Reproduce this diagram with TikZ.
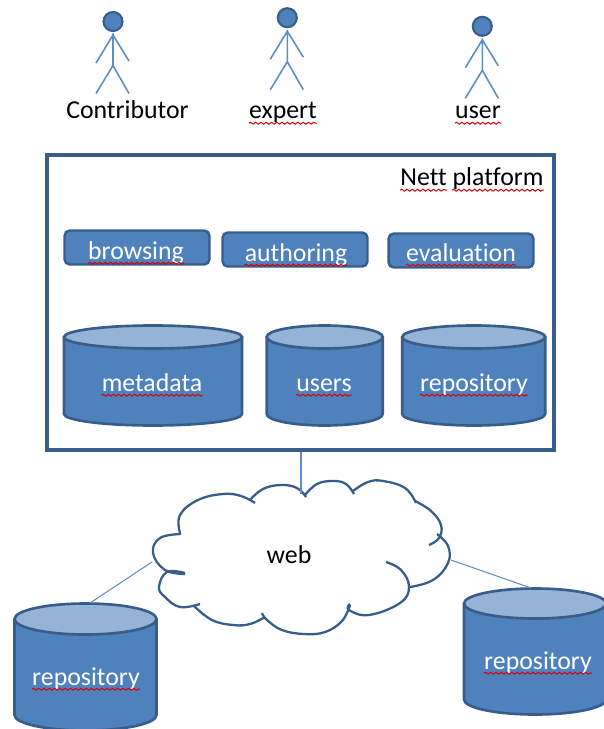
\documentclass[tikz,border=0pt]{standalone}
\usepackage{fontspec}
\setmainfont[Ligatures=NoCommon]{Carlito}
\usetikzlibrary{positioning}
\usetikzlibrary{decorations.pathmorphing}
\definecolor{boxfill}{HTML}{4F81BD}
\definecolor{boxedge}{HTML}{385D8A}
\definecolor{boxtop}{HTML}{95B3D7}
\definecolor{thinline}{HTML}{5F8CC4}
\tikzset{
  word/.style={inner sep=0pt, anchor=base, font=\fontsize{14.7}{16}\selectfont},
  lightword/.style={word, text=white},
  service/.style={draw=boxedge, line width=1.4pt, fill=boxfill, rounded corners=3pt, minimum width=2.9cm, minimum height=0.68cm, inner sep=0pt},
  link/.style={draw=thinline, line width=0.6pt},
  lobe/.style={draw=boxedge, line width=1.3pt, smooth, tension=0.7},
  squiggle/.style={draw=red!85!black, line width=0.55pt, decorate, decoration={snake, amplitude=0.55pt, segment length=3pt}},
  actor/.pic={
    \draw[thinline, line width=0.9pt] (0,12) -- (0,44) (-17,41.5) -- (0,13.5) -- (16,39.5) (-17,72) -- (0,44) -- (16,72);
    \draw[boxedge, line width=1.2pt, fill=boxfill] (0,0) circle[radius=9.5];
  },
  % half width, end radius, half height
  pics/store/.style n args={3}{code={
    \draw[boxedge, line width=1.5pt, line join=round, fill=boxfill] (-#1,-#3+#2) -- (-#1,#3-#2) arc[start angle=180, end angle=0, x radius=#1, y radius=#2] -- (#1,-#3+#2) -- cycle;
    \draw[boxedge, line width=1.5pt, fill=boxtop] (0,-#3+#2) ellipse[x radius=#1, y radius=#2];
  }}
}
\begin{document}
\begin{tikzpicture}[x=0.02cm, y=-0.02cm]
\useasboundingbox (0,0) rectangle (603,729);

\pic at (113,21.5) {actor};
\pic at (287.3,17.7) {actor};
\pic at (482.3,26.3) {actor};
\node[word] (contributor) at (127.5,119) {Contributor};
\node[word] (expert) at (283,119) {expert};
\node[word] (user) at (478,119) {user};

\node[draw=boxedge, line width=1.8pt, minimum width=10.14cm, minimum height=5.9cm, inner sep=0pt] (platform) at (300.5,302.5) {};
\node[word] (nett) at (472,186) {Nett platform};

\node[service] (browsing) at (137,247.5) {};
\node[service] (authoring) at (295,249.5) {};
\node[service] (evaluation) at (461,250.5) {};
\node[lightword] (browsinglab) at (136,259) {browsing};
\node[lightword] (authoringlab) at (296,261) {authoring};
\node[lightword] (evaluationlab) at (461,261) {evaluation};

\pic at (153,375.5) {store={89}{11.5}{50}};
\pic at (324.7,375.5) {store={58}{11.5}{50}};
\pic at (473.7,375.5) {store={71.5}{11.5}{50}};
\pic at (85.5,667) {store={71}{15.5}{63.5}};
\pic at (535,651.5) {store={71}{15}{63}};
\node[lightword] (metadatalab) at (152,391) {metadata};
\node[lightword] (userslab) at (324,391) {users};
\node[lightword] (repositorylab) at (474,391) {repository};
\node[lightword] (leftrepolab) at (86,685) {repository};
\node[lightword] (rightrepolab) at (538,669) {repository};

% cloud
\draw[lobe] plot coordinates {(180,533) (180,515) (198,500) (223,494) (241,496) (255,503)};
\draw[lobe] plot coordinates {(250,500) (263,489) (281,485) (297,488) (306,497)};
\draw[lobe] plot coordinates {(305,495) (317,484) (333,481) (346,484) (354,494)};
\draw[lobe] plot coordinates {(353,491) (368,482) (383,481) (405,488) (416,503)};
\draw[lobe] plot coordinates {(415,501) (431,511) (441,525) (439,538) (429,545)};
\draw[lobe] plot coordinates {(437,534) (448,546) (448,563) (433,580) (410,587)};
\draw[lobe] plot coordinates {(386,562) (401,570) (409,587) (400,603) (369,615) (349,610) (350,604)};
\draw[lobe] plot coordinates {(350,605) (342,621) (325,632) (304,634) (282,630) (267,620) (262,613)};
\draw[lobe] plot coordinates {(265,617) (250,624) (233,625) (212,620) (194,606)};
\draw[lobe] plot coordinates {(200,604) (180,607) (165,597) (159,587) (167,572) (185,573)};
\draw[lobe] plot coordinates {(185,574) (165,570) (153,553) (160,538) (181,534)};
\node[word] (web) at (289,563) {web};

\coordinate (cloudtop) at (301,494);
\coordinate (cloudleft) at (152,562);
\coordinate (cloudright) at (451,560);
\coordinate (leftrepotop) at (90,603);
\coordinate (rightrepotop) at (531,588);
\draw[link] (platform.south -| cloudtop) -- (cloudtop);
\draw[link] (cloudleft) -- (leftrepotop);
\draw[link] (cloudright) -- (rightrepotop);

% spelling marks
\foreach \lab in {expert,user,browsinglab,authoringlab,evaluationlab,metadatalab,userslab,repositorylab,leftrepolab,rightrepolab}
  \draw[squiggle] ([yshift=-2.4pt]\lab.base west) -- ([yshift=-2.4pt]\lab.base east);
\draw[squiggle] ([yshift=-2.4pt]nett.base west) -- ([yshift=-2.4pt, xshift=0.94cm]nett.base west);
\draw[squiggle] ([yshift=-2.4pt, xshift=-1.84cm]nett.base east) -- ([yshift=-2.4pt]nett.base east);

\end{tikzpicture}
\end{document}
